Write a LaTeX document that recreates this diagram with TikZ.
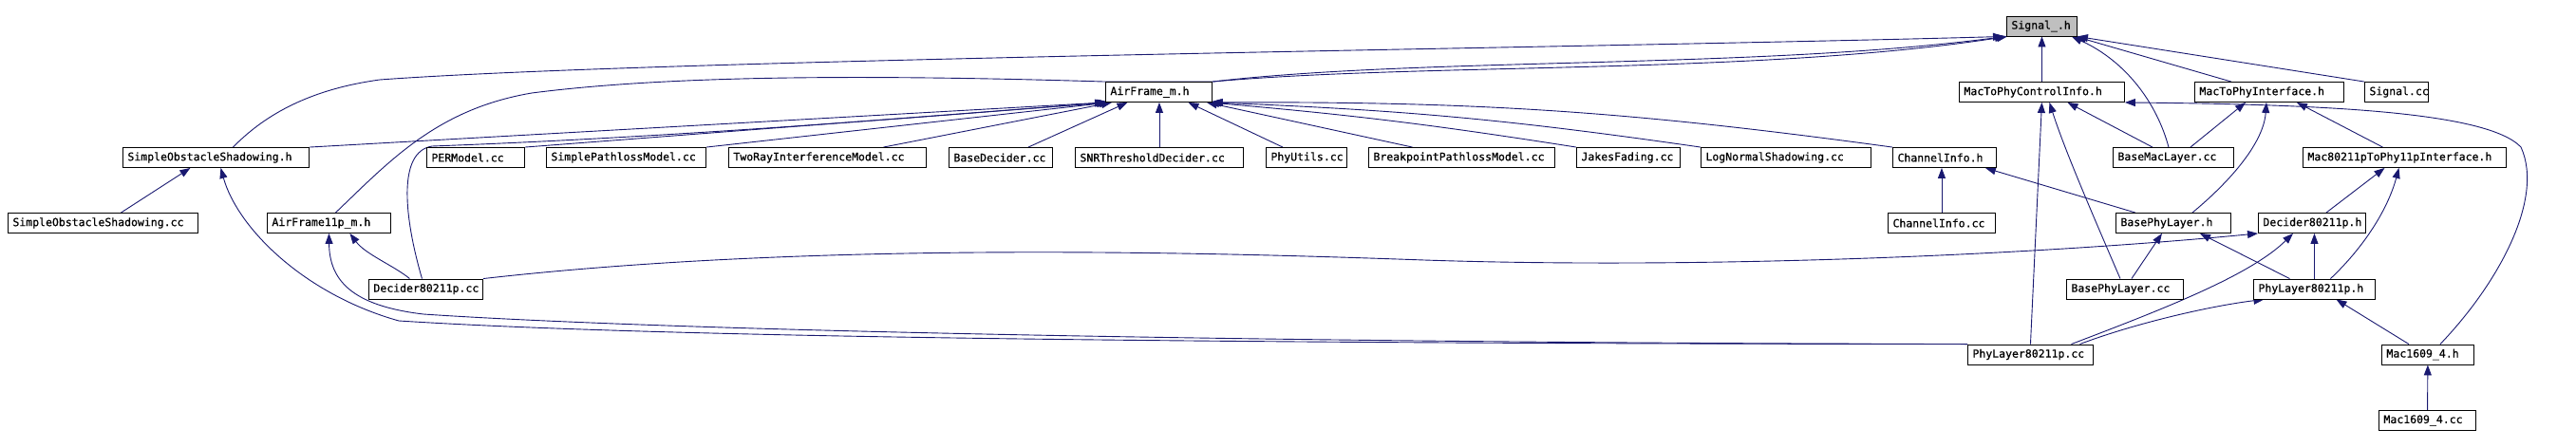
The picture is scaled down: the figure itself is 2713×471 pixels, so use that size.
\documentclass[tikz,border=0pt]{standalone}
\usepackage{fontspec}
\newfontfamily\filefont{DejaVu Sans Mono}[FakeBold=0.6]
\usetikzlibrary{arrows.meta}
\definecolor{depblue}{RGB}{25,25,112}
\definecolor{headgray}{RGB}{191,191,191}
\pgfdeclarelayer{background}
\pgfsetlayers{background,main}
\hbadness=10000 \hfuzz=20pt

\begin{document}
\begin{tikzpicture}[x=1pt, y=-1pt,
    file/.style={draw=black, line width=0.9pt, fill=white, anchor=west, align=left,
      inner xsep=5pt, inner ysep=0pt, minimum height=21pt,
      font=\filefont\fontsize{11.5}{13}\selectfont},
    dep/.style={draw=depblue, line width=0.9pt, -{Triangle[length=11pt,width=8pt]}}]
    \useasboundingbox (0,0) rectangle (2713,471);
    % Satır 0
    \node[file, fill=headgray, text width=64pt] (sig) at (2113,27.5) {Signal\_.h};
    % Satır 1
    \node[file, text width=102pt] (airm) at (1164,97) {AirFrame\_m.h};
    \node[file, text width=164pt] (ctrl) at (2063,97) {MacToPhyControlInfo.h};
    \node[file, text width=147pt] (iface) at (2311,97) {MacToPhyInterface.h};
    \node[file, text width=57pt] (sigcc) at (2490,97) {Signal.cc};
    % Satır 2
    \node[file, text width=186pt] (sosh) at (129,166) {SimpleObstacleShadowing.h};
    \node[file, text width=93pt] (per) at (449,166) {PERModel.cc};
    \node[file, text width=158pt] (spl) at (575,166) {SimplePathlossModel.cc};
    \node[file, text width=198pt] (tworay) at (767,166) {TwoRayInterferenceModel.cc};
    \node[file, text width=99pt] (bdec) at (999,166) {BaseDecider.cc};
    \node[file, text width=167pt] (snr) at (1132,166) {SNRThresholdDecider.cc};
    \node[file, text width=75pt] (phyu) at (1333,166) {PhyUtils.cc};
    \node[file, text width=186pt] (bpl) at (1441,166) {BreakpointPathlossModel.cc};
    \node[file, text width=99pt] (jakes) at (1660,166) {JakesFading.cc};
    \node[file, text width=169pt] (lns) at (1791,166) {LogNormalShadowing.cc};
    \node[file, text width=99pt] (chh) at (1993,166) {ChannelInfo.h};
    \node[file, text width=117pt] (bmac) at (2225,166) {BaseMacLayer.cc};
    \node[file, text width=204pt] (m11p) at (2425,166) {Mac80211pToPhy11pInterface.h};
    % Satır 3
    \node[file, text width=190pt] (socc) at (8,235) {SimpleObstacleShadowing.cc};
    \node[file, text width=120pt] (air11) at (281,235) {AirFrame11p\_m.h};
    \node[file, text width=103pt] (chcc) at (1988,235) {ChannelInfo.cc};
    \node[file, text width=111pt] (bphyh) at (2228,235) {BasePhyLayer.h};
    \node[file, text width=103pt] (dech) at (2378,235) {Decider80211p.h};
    % Satır 4
    \node[file, text width=110pt] (deccc) at (388,304.5) {Decider80211p.cc};
    \node[file, text width=113pt] (bphycc) at (2176,304.5) {BasePhyLayer.cc};
    \node[file, text width=118pt] (phyh) at (2373,304.5) {PhyLayer80211p.h};
    % Satır 5 ve 6
    \node[file, text width=122pt] (phycc) at (2072,373.5) {PhyLayer80211p.cc};
    \node[file, text width=87pt] (mach) at (2508,373.5) {Mac1609\_4.h};
    \node[file, text width=92pt] (maccc) at (2505,443) {Mac1609\_4.cc};

    \begin{pgfonlayer}{background}
    % Signal_.h bağlantıları
    \draw[dep] ([xshift=18pt]sosh.north) .. controls (275,125) and (320,95) .. (400,84)
        .. controls (700,62) and (1700,50) .. ([xshift=-3pt]sig.south west);
    \draw[dep] ([xshift=7pt]air11.north) .. controls (410,170) and (460,115) .. (560,98)
        .. controls (700,80) and (900,78) .. (airm.north west) -- (airm.north east)
        .. controls (1500,60) and (1850,73) .. ([xshift=-1pt]sig.south west);
    \draw[dep] (airm.north east) .. controls (1500,66) and (1850,79) .. ([xshift=1pt]sig.south west);
    \draw[dep] (ctrl) -- (sig);
    \draw[dep] ([xshift=-5pt]bmac.north) .. controls (2272,110) and (2240,65) .. ([xshift=-6pt]sig.south east);
    \draw[dep] ([xshift=-40pt]iface.north) -- ([xshift=-2pt]sig.south east);
    \draw[dep] (sigcc.north west) -- (sig.south east);
    % AirFrame_m.h bağlantıları
    \draw[dep] (sosh.north east) -- (airm.south west);
    \draw[dep] ([xshift=-4pt]deccc.north) .. controls (426,230) and (418,160) .. (455,154)
        .. controls (700,145) and (950,125) .. ([xshift=2pt]airm.south west);
    \draw[dep] (per.north east) -- ([xshift=3pt]airm.south west);
    \draw[dep] (spl.north east) -- ([xshift=5pt]airm.south west);
    \draw[dep] ([xshift=59pt]tworay.north) -- ([xshift=7pt]airm.south west);
    \draw[dep] ([xshift=29pt]bdec.north) -- ([xshift=-33pt]airm.south);
    \draw[dep] (snr.north) -- (snr.north |- airm.south);
    \draw[dep] ([xshift=-25pt]phyu.north) -- ([xshift=31pt]airm.south);
    \draw[dep] ([xshift=-52pt]bpl.north) -- ([xshift=-6pt]airm.south east);
    \draw[dep] (jakes.north west) to[bend right=2] ([xshift=-4pt]airm.south east);
    \draw[dep] (lns.north west) to[bend right=3] ([xshift=-2pt]airm.south east);
    \draw[dep] (chh.north west) to[bend right=4] (airm.south east);
    % ChannelInfo.h ve SimpleObstacleShadowing.h
    \draw[dep] (chcc.north) -- (chcc.north |- chh.south);
    \draw[dep] ([xshift=-40pt]bphyh.north) -- ([xshift=-12pt]chh.south east);
    \draw[dep] ([xshift=19pt]socc.north) -- ([xshift=-27pt]sosh.south);
    \draw[dep] (phycc.north west) .. controls (1300,362) and (700,356) .. (420,338)
        .. controls (320,310) and (250,240) .. ([xshift=5pt]sosh.south);
    % AirFrame11p_m.h
    \draw[dep] (phycc.north west) .. controls (1300,361) and (700,348) .. (446,331)
        .. controls (370,322) and (347,295) .. (air11.south);
    \draw[dep] ([xshift=-17pt]deccc.north) .. controls (415,280) and (385,268) .. ([xshift=22pt]air11.south);
    \draw[dep] (deccc.north east) .. controls (850,255) and (1250,265) .. (1500,274)
        .. controls (1800,284) and (2150,268) .. (dech.south west);
    % MacToPhyControlInfo.h
    \draw[dep] ([xshift=-22pt]bmac.north) -- ([xshift=27pt]ctrl.south);
    \draw[dep] ([xshift=-5pt]bphycc.north) .. controls (2210,240) and (2175,160) .. ([xshift=8pt]ctrl.south);
    \draw[dep] (phycc.north) -- (ctrl.south);
    \draw[dep] ([xshift=13pt]mach.north) .. controls (2630,300) and (2680,210) .. (2655,155)
        .. controls (2620,118) and (2450,110) .. (ctrl.south east);
    % MacToPhyInterface.h
    \draw[dep] ([xshift=18pt]bmac.north) -- ([xshift=-25pt]iface.south);
    \draw[dep] ([xshift=20pt]bphyh.north) .. controls (2350,190) and (2384,150) .. ([xshift=-3pt]iface.south);
    \draw[dep] ([xshift=-23pt]m11p.north) -- ([xshift=29pt]iface.south);
    % Mac80211pToPhy11pInterface.h
    \draw[dep] ([xshift=15pt]dech.north) -- ([xshift=-21pt]m11p.south);
    \draw[dep] ([xshift=17pt]phyh.north) .. controls (2490,260) and (2515,220) .. ([xshift=-6pt]m11p.south);
    % BasePhyLayer.h, Decider80211p.h, PhyLayer80211p.h
    \draw[dep] ([xshift=7pt]bphycc.north) -- ([xshift=-12pt]bphyh.south);
    \draw[dep] ([xshift=-26pt]phyh.north) -- ([xshift=28pt]bphyh.south);
    \draw[dep] (phyh.north) -- (phyh.north |- dech.south);
    \draw[dep] ([xshift=43pt]phycc.north) .. controls (2280,325) and (2370,290) .. ([xshift=-20pt]dech.south);
    \draw[dep] ([xshift=52pt]phycc.north) .. controls (2250,340) and (2330,322) .. ([xshift=-53pt]phyh.south);
    \draw[dep] ([xshift=-20pt]mach.north) -- ([xshift=23pt]phyh.south);
    \draw[dep] (maccc) -- (mach);
    \end{pgfonlayer}
\end{tikzpicture}
\end{document}
